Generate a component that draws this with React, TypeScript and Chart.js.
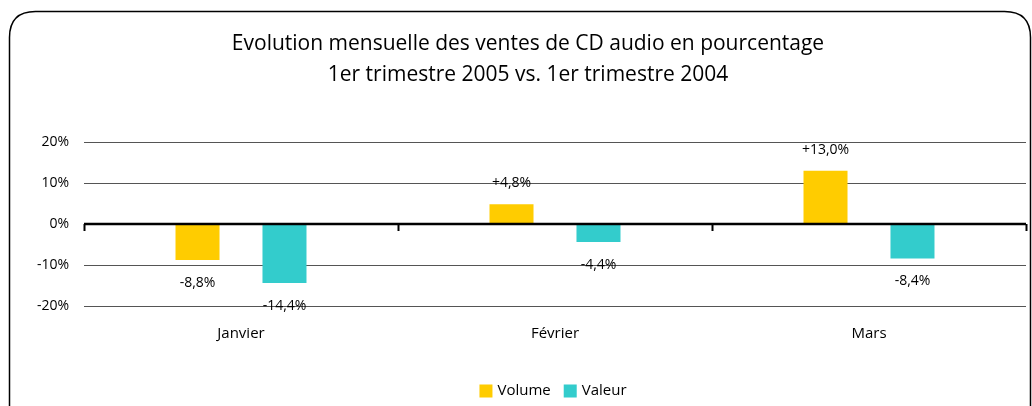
import React, { useEffect, useRef } from "react";
import { Chart, registerables } from "chart.js";

Chart.register(...registerables);

const TITLE_LINES = [
  "Evolution mensuelle des ventes de CD audio en pourcentage",
  "1er trimestre 2005 vs. 1er trimestre 2004",
];
const CATEGORIES = ["Janvier", "Février", "Mars"];
const SERIES_NAMES = ["Volume", "Valeur"];
const VOLUME = [-8.8, 4.8, 13.0];
const VALEUR = [-14.4, -4.4, -8.4];
const Y_MIN = -20;
const Y_MAX = 20;
const Y_STEP = 10;
const COLORS = ["#FFCC00", "#33CCCC"];
const FONT = "'Open Sans', Lato, sans-serif";

const fmtLabel = (v: number) =>
  (v > 0 ? "+" : v < 0 ? "-" : "") + Math.abs(v).toFixed(1).replace(".", ",") + "%";

const decorPlugin = {
  id: "decor",
  beforeDraw(chart: any) {
    const ctx = chart.ctx;
    ctx.save();
    ctx.fillStyle = "#ffffff";
    ctx.fillRect(0, 0, chart.width, chart.height);
    const x = 9.5, y = 11.5, w = 1021, h = 430, r = 26;
    ctx.beginPath();
    ctx.moveTo(x + r, y);
    ctx.lineTo(x + w - r, y);
    ctx.quadraticCurveTo(x + w, y, x + w, y + r);
    ctx.lineTo(x + w, y + h);
    ctx.lineTo(x, y + h);
    ctx.lineTo(x, y + r);
    ctx.quadraticCurveTo(x, y, x + r, y);
    ctx.closePath();
    ctx.strokeStyle = "#000";
    ctx.lineWidth = 1.5;
    ctx.stroke();
    ctx.restore();
  },
  afterDraw(chart: any) {
    const ctx = chart.ctx;
    const area = chart.chartArea;
    const xs = chart.scales.x;
    const ys = chart.scales.y;
    ctx.save();
    ctx.fillStyle = "#000";
    ctx.textAlign = "center";
    ctx.textBaseline = "middle";
    ctx.font = `500 21px ${FONT}`;
    ctx.fillText(TITLE_LINES[0], 528, 44);
    ctx.fillText(TITLE_LINES[1], 528, 75);

    const y0 = ys.getPixelForValue(0);
    ctx.strokeStyle = "#000";
    ctx.lineWidth = 2.5;
    ctx.beginPath();
    ctx.moveTo(area.left, y0);
    ctx.lineTo(area.right, y0);
    ctx.stroke();
    const n = CATEGORIES.length;
    const bounds: number[] = [area.left];
    for (let i = 1; i < n; i++) {
      bounds.push((xs.getPixelForValue(i - 1) + xs.getPixelForValue(i)) / 2);
    }
    bounds.push(area.right);
    ctx.lineWidth = 2;
    bounds.forEach((bx) => {
      const px = Math.round(bx) + 0.5;
      ctx.beginPath();
      ctx.moveTo(px, y0);
      ctx.lineTo(px, y0 + 7);
      ctx.stroke();
    });

    ctx.font = `14px ${FONT}`;
    ctx.textAlign = "center";
    ctx.textBaseline = "middle";
    chart.data.datasets.forEach((ds: any, di: number) => {
      const meta = chart.getDatasetMeta(di);
      meta.data.forEach((el: any, i: number) => {
        const v = ds.data[i];
        const ly = v >= 0 ? el.y - 21 : el.y + 23;
        ctx.fillText(fmtLabel(v), el.x, ly);
      });
    });

    ctx.font = `500 15px ${FONT}`;
    ctx.textAlign = "left";
    const box = 13, gapText = 5, gapItem = 13;
    const items = chart.data.datasets.map((ds: any) => ({
      label: ds.label,
      color: ds.backgroundColor,
      w: ctx.measureText(ds.label).width,
    }));
    const total = items.reduce((s: number, it: any) => s + box + gapText + it.w, 0) + gapItem * (items.length - 1);
    let lx = 553 - total / 2;
    const ly = 391;
    items.forEach((it: any) => {
      ctx.fillStyle = it.color;
      ctx.fillRect(lx, ly - box / 2, box, box);
      ctx.fillStyle = "#000";
      ctx.fillText(it.label, lx + box + gapText, ly);
      lx += box + gapText + it.w + gapItem;
    });
    ctx.restore();
  },
};

export default function App() {
  const ref = useRef<HTMLCanvasElement | null>(null);
  useEffect(() => {
    if (!ref.current) return;
    const chart = new Chart(ref.current, {
      type: "bar",
      data: {
        labels: CATEGORIES,
        datasets: [
          { label: SERIES_NAMES[0], data: VOLUME, backgroundColor: COLORS[0], categoryPercentage: 0.554, barPercentage: 0.506 },
          { label: SERIES_NAMES[1], data: VALEUR, backgroundColor: COLORS[1], categoryPercentage: 0.554, barPercentage: 0.506 },
        ],
      },
      options: {
        responsive: true,
        maintainAspectRatio: false,
        animation: false,
        layout: { padding: { top: 142, right: 6, bottom: 60, left: 0 } },
        plugins: {
          legend: { display: false },
          title: { display: false },
          tooltip: { enabled: false },
        },
        scales: {
          x: {
            grid: { display: false, drawTicks: false },
            border: { display: false },
            ticks: { color: "#000", font: { family: FONT, size: 15, weight: "500" }, padding: 19 },
            afterFit: (s: any) => { s.height = 40; },
          },
          y: {
            min: Y_MIN,
            max: Y_MAX,
            grid: {
              drawTicks: false,
              color: (c: any) => (c.tick && c.tick.value === 0 ? "rgba(0,0,0,0)" : "#555"),
              lineWidth: 1,
            },
            border: { display: false },
            ticks: {
              stepSize: Y_STEP,
              color: "#000",
              font: { family: FONT, size: 14 },
              padding: 15,
              callback: (v: any) => `${v}%`,
            },
            afterFit: (s: any) => { s.width = 84; },
          },
        },
      },
      plugins: [decorPlugin],
    });
    return () => chart.destroy();
  }, []);
  return (
    <div style={{ position: "fixed", left: 0, top: 0, width: 1032, height: 406, background: "#fff" }}>
      <canvas ref={ref} />
    </div>
  );
}
